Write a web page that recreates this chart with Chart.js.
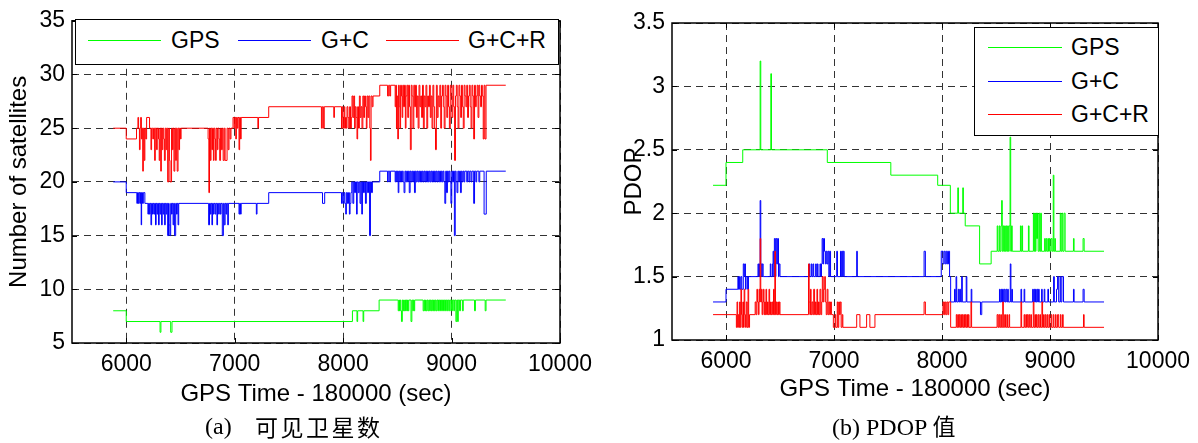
<!DOCTYPE html>
<html>
<head>
<meta charset="utf-8">
<script src="https://cdn.jsdelivr.net/npm/chart.js@4.4.0/dist/chart.umd.min.js"></script>
<style>
  html, body { margin: 0; padding: 0; background: #fff; }
  #wrap { position: relative; width: 1198px; height: 443px; overflow: hidden; font-family: 'Liberation Sans', Arial, sans-serif; }
  canvas { position: absolute; top: 0; }
  .legend { position: absolute; border: 1px solid #000; background: #fff; box-sizing: border-box; }
  .legend .ln { position: absolute; height: 1px; }
  .legend .tx { position: absolute; font-size: 23px; line-height: 23px; color: #000; white-space: nowrap; }
  .cap { position: absolute; font-size: 24px; line-height: 30px; color: #000; white-space: nowrap; font-family: 'Liberation Serif', 'Times New Roman', serif; }
  .cjk { font-family: 'Noto Sans CJK SC', sans-serif; font-size: 23px; letter-spacing: 2.5px; }
</style>
</head>
<body>
<div id="wrap">
  <canvas id="satChart" width="600" height="443" style="left:0px"></canvas>
  <canvas id="pdopChart" width="598" height="443" style="left:600px"></canvas>
  <div class="legend" id="satLegend" style="left:75px;top:19px;width:484px;height:46px"></div>
  <div class="legend" id="pdopLegend" style="left:974px;top:27px;width:185px;height:109px"></div>
  <div class="cap" style="left:205px;top:411px">(a)</div>
  <div class="cap cjk" style="left:255px;top:411px">可见卫星数</div>
  <div class="cap" style="left:832px;top:410px">(b) PDOP <span class="cjk" style="letter-spacing:0">值</span></div>
</div>
<script>
'use strict';

// tick labels
const xTickValues = [6000, 7000, 8000, 9000, 10000];
const satTickValues = [5, 10, 15, 20, 25, 30, 35];
const pdopTickValues = [1, 1.5, 2, 2.5, 3, 3.5];
const seriesNames = ['GPS', 'G+C', 'G+C+R'];

// number of satellites, [time, value] change points
const satGps = [[5880,8],[6000,7],[6312,6],[6320,7],[6410,6],[6422,7],[8086,8],[8128,7],[8134,8],[8184,7],[8190,8],[8332,9],
  [8508,8],[8514,9],[8520,8],[8526,9],[8532,8],[8538,7],[8546,9],[8552,8],[8558,9],[8564,8],[8570,9],[8576,8],[8582,9],[8588,8],[8594,9],[8600,8],[8606,9],[8626,7],[8634,9],[8642,8],[8648,9],[8654,8],[8660,9],
  [8738,8],[8746,9],[8752,8],[8760,9],[8766,8],[8774,9],[8782,8],[8790,9],[8798,8],[8804,9],[8812,8],[8818,9],[8826,8],[8834,9],[8842,8],[8850,9],[8858,8],[8866,9],[8874,8],[8880,9],[8890,8],[8898,9],[8908,8],[8916,9],[8926,8],[8934,9],[8944,8],[8952,9],[8962,8],[8970,9],[8980,8],[8988,9],[9000,8],[9008,9],[9020,8],[9028,9],[9040,7],[9048,9],[9056,7],[9062,9],[9074,8],[9082,9],[9100,8],[9108,9],[9212,8],[9220,9],[9310,8],[9318,9],[9500,9]];

const satGc = [[5880,20],[6000,19],[6098,18],[6104,19],[6112,18],[6118,19],[6126,18],[6132,19],[6138,16],[6142,19],[6150,18],[6158,19],[6172,18],[6200,17],[6206,18],[6214,17],[6220,18],[6228,16],[6234,18],[6242,17],[6248,18],[6256,17],[6262,18],[6270,16],[6276,18],[6284,17],[6290,18],[6298,16],[6304,18],[6312,17],[6318,18],[6326,16],[6332,18],[6340,17],[6346,18],[6354,16],[6360,18],[6368,17],[6374,18],[6382,15],[6390,18],[6396,16],[6402,15],[6410,18],[6418,17],[6424,18],[6432,16],[6438,18],[6446,15],[6456,18],[6464,17],[6470,18],[6478,16],[6484,18],
  [6760,16],[6768,18],[6776,17],[6782,18],[6790,16],[6796,18],[6804,17],[6810,18],[6820,17],[6826,18],[6836,16],[6842,18],[6852,17],[6858,18],[6868,17],[6874,18],[6886,15],[6896,18],[6904,16],[6912,18],[6920,17],[6926,18],[6936,16],[6942,18],
  [7040,17],[7046,18],[7054,17],[7060,18],[7200,17],[7206,18],[7314,19],
  [7810,18],[7830,19],[7985,18],[7992,19],[8000,18],[8008,19],[8016,18],[8024,17],[8030,19],[8040,18],[8050,19],[8058,17],[8064,18],[8072,19],[8080,20],[8090,18],[8098,20],[8106,19],[8114,20],[8124,17],[8130,20],[8140,19],[8148,20],[8156,18],[8164,20],[8172,17],[8178,20],[8188,19],[8196,20],[8206,18],[8214,20],[8226,19],[8234,20],[8244,15],[8252,20],[8262,19],[8270,20],[8338,21],
  [8410,20],[8416,21],[8430,20],[8436,21],
  [8480,20],[8486,21],[8494,20],[8500,21],[8508,19],[8514,21],[8522,20],[8530,21],[8538,20],[8546,21],[8554,20],[8562,19],[8570,21],[8578,20],[8586,21],[8594,20],[8602,21],[8610,19],[8618,21],[8626,20],[8634,21],[8642,20],[8650,21],[8658,19],[8666,21],[8674,20],[8682,21],[8690,20],[8698,21],[8706,20],[8714,21],[8722,20],[8730,21],[8738,20],[8746,21],[8754,20],[8762,21],[8770,20],[8778,21],[8786,20],[8794,21],[8802,20],[8810,21],[8818,20],[8826,21],[8834,20],[8842,21],[8850,20],[8858,21],[8866,20],[8874,21],[8882,20],[8890,21],[8898,20],[8906,21],[8914,20],[8922,21],[8930,20],[8938,18],[8946,21],[8954,19],[8962,21],[8970,20],[8978,21],[8986,20],[8994,18],[9002,21],[9010,20],[9018,21],[9026,15],[9034,21],[9042,20],[9050,19],[9058,21],[9066,20],[9074,21],[9082,19],[9090,21],[9098,20],[9106,21],[9114,20],[9122,21],[9140,20],[9148,21],[9160,20],[9168,21],[9180,20],[9188,21],[9204,18],[9212,21],[9224,20],[9232,21],[9252,20],[9260,21],[9300,17],[9320,21],[9500,21]];

const satGcr = [[5880,25],[6000,24],[6095,25],[6108,26],[6114,25],[6122,23],[6128,25],[6133,26],[6140,24],[6146,25],[6152,21],[6158,25],[6166,22],[6172,25],[6180,24],[6188,26],[6215,25],[6228,23],[6234,25],[6245,24],[6252,25],[6262,22],[6268,25],[6280,23],[6286,25],[6298,24],[6304,22],[6310,25],[6318,21],[6324,25],[6332,23],[6338,25],[6346,24],[6352,22],[6360,25],[6368,23],[6374,25],[6382,20],[6392,25],[6398,22],[6404,20],[6418,25],[6426,23],[6432,25],[6440,21],[6448,25],[6456,22],[6462,25],[6470,21],[6478,25],[6486,23],[6492,25],[6500,24],[6506,25],
  [6755,24],[6762,19],[6768,25],[6776,22],[6782,25],[6790,23],[6796,25],[6804,22],[6810,25],[6818,24],[6824,22],[6830,25],[6840,23],[6846,25],[6856,24],[6862,22],[6870,25],[6878,23],[6886,25],[6894,22],[6904,25],[6912,22],[6930,25],[6940,23],[6948,25],[6958,24],[6966,25],
  [6985,26],[6996,25],[7002,26],[7010,24],[7016,26],[7024,25],[7030,26],[7040,23],[7046,26],[7054,24],[7060,26],[7214,25],[7220,26],[7314,27],
  [7800,25],[7808,27],[7818,25],[7826,27],[7914,26],[7920,27],[7985,25],[7992,27],[7998,26],[8004,25],[8010,27],[8016,25],[8022,26],[8030,25],[8036,27],[8044,26],[8052,25],[8060,27],[8068,25],[8076,26],[8082,28],[8090,26],[8098,28],[8106,25],[8112,27],[8120,26],[8128,24],[8134,27],[8142,25],[8150,28],[8158,26],[8166,27],[8174,25],[8182,28],[8190,26],[8198,28],[8206,27],[8214,25],[8220,28],[8228,26],[8236,28],[8246,25],[8252,22],[8258,28],[8268,27],[8276,28],[8338,29],
  [8410,28],[8420,29],[8430,28],[8438,29],
  [8480,27],[8486,29],[8492,25],[8498,28],[8504,24],[8510,29],[8518,27],[8524,25],[8530,29],[8538,28],[8544,26],[8550,29],[8558,27],[8566,29],[8574,25],[8580,28],[8588,29],[8596,26],[8604,29],[8612,27],[8620,23],[8628,29],[8636,28],[8644,25],[8652,29],[8660,27],[8668,29],[8676,26],[8684,28],[8692,25],[8700,29],[8708,27],[8716,28],[8724,26],[8732,29],[8740,25],[8748,28],[8756,27],[8764,29],[8772,25],[8780,28],[8788,27],[8796,29],[8804,26],[8812,28],[8820,25],[8828,29],[8836,27],[8844,25],[8852,23],[8860,29],[8868,26],[8876,28],[8884,27],[8892,29],[8900,25],[8908,28],[8916,29],[8924,27],[8932,25],[8940,29],[8948,28],[8956,26],[8964,29],[8972,27],[8980,25],[8988,29],[8996,28],[9004,26],[9012,29],[9020,27],[9028,22],[9036,28],[9044,29],[9052,27],[9060,25],[9068,29],[9076,28],[9084,26],[9092,29],[9100,27],[9108,25],[9116,29],[9124,28],[9132,27],[9140,29],[9148,26],[9156,28],[9164,29],[9172,27],[9180,25],[9188,29],[9196,28],[9204,24],[9212,29],[9220,27],[9228,28],[9236,29],[9244,26],[9252,29],[9260,28],[9268,27],[9276,29],[9284,28],[9292,24],[9300,29],[9308,24],[9318,29],[9500,29]];

// PDOP, [time, value] change points
const pdopGps = [[5880,2.22],[6000,2.4],[6155,2.5],[6316,3.2],[6322,2.5],[6415,3.1],[6421,2.5],[6938,2.4],[7526,2.3],[7960,2.22],[8077,2.0],[8146,2.2],[8152,2.0],[8192,2.2],[8198,2.0],[8215,1.9],[8348,1.6],[8455,1.7],
  [8511,1.9],[8517,1.7],[8530,1.9],[8536,1.7],[8546,1.9],[8552,2.1],[8558,1.7],[8566,1.9],[8572,1.7],[8580,1.9],[8586,1.7],[8594,1.9],[8600,1.7],[8608,1.9],[8614,1.7],[8622,1.9],[8630,2.6],[8636,1.7],[8644,1.9],[8650,1.7],
  [8726,1.9],[8732,1.7],[8740,1.9],[8746,1.7],[8800,1.9],[8806,1.7],
  [8846,2.0],[8852,1.7],[8858,2.0],[8864,1.7],[8870,2.0],[8876,1.8],[8884,2.0],[8890,1.7],[8900,2.0],[8906,1.7],[8914,2.0],[8920,1.7],
  [8950,1.8],[8956,1.7],[8964,1.8],[8970,1.7],[8980,1.8],[8986,1.7],[8994,1.8],[9000,1.7],[9010,1.8],[9020,1.7],[9030,2.3],[9036,1.7],[9044,1.8],[9050,1.7],
  [9095,2.0],[9101,1.7],[9110,2.0],[9118,1.7],[9130,2.0],[9140,1.7],[9217,1.8],[9223,1.7],[9306,1.8],[9316,1.7],[9500,1.7]];

const pdopGc = [[5880,1.3],[6000,1.4],[6110,1.5],[6116,1.4],[6124,1.5],[6130,1.4],[6138,1.5],[6146,1.4],[6160,1.6],[6168,1.5],[6174,1.6],[6180,1.4],[6186,1.5],[6200,1.4],[6208,1.5],
  [6296,1.6],[6302,1.5],[6310,1.6],[6316,2.1],[6322,1.6],[6330,1.5],[6336,1.6],[6344,1.5],[6410,1.6],[6416,1.5],[6430,1.6],[6436,1.7],[6442,1.5],[6448,1.8],[6456,1.5],[6462,1.8],[6470,1.6],[6478,1.8],[6486,1.5],[6492,1.6],[6500,1.5],
  [6770,1.6],[6776,1.5],[6790,1.6],[6796,1.5],[6806,1.6],[6812,1.5],[6830,1.6],[6836,1.5],[6846,1.6],[6852,1.5],[6870,1.6],[6876,1.5],[6884,1.6],[6890,1.8],[6898,1.6],[6904,1.8],[6912,1.7],[6920,1.6],[6928,1.7],[6936,1.6],[6944,1.7],[6952,1.5],[6960,1.7],[6968,1.5],
  [7025,1.7],[7032,1.5],[7060,1.7],[7066,1.5],[7072,1.7],[7080,1.5],[7086,1.7],[7094,1.5],[7210,1.7],[7216,1.5],
  [7834,1.7],[7846,1.5],[7993,1.7],[8010,1.6],[8020,1.7],[8030,1.6],[8040,1.7],[8050,1.6],[8060,1.7],[8070,1.5],[8080,1.3],
  [8116,1.4],[8122,1.3],[8130,1.5],[8136,1.3],[8150,1.4],[8156,1.3],[8164,1.4],[8172,1.3],[8182,1.5],[8188,1.3],[8224,1.5],[8230,1.3],[8270,1.4],[8276,1.3],[8356,1.2],[8368,1.3],
  [8532,1.4],[8538,1.3],[8546,1.4],[8552,1.3],[8560,1.4],[8568,1.3],[8576,1.4],[8584,1.3],[8592,1.4],[8600,1.3],[8608,1.4],[8614,1.3],[8632,1.6],[8638,1.3],[8646,1.4],[8652,1.3],
  [8731,1.4],[8737,1.3],[8760,1.4],[8766,1.3],[8839,1.4],[8845,1.3],[8852,1.4],[8858,1.3],[8866,1.4],[8872,1.3],[8880,1.4],[8886,1.3],[8894,1.4],[8900,1.3],[8922,1.4],[8928,1.3],[8946,1.4],[8952,1.3],[8980,1.4],[8986,1.3],[9033,1.5],[9040,1.3],[9060,1.4],[9070,1.5],[9080,1.3],[9094,1.5],[9100,1.3],[9110,1.5],[9125,1.3],
  [9217,1.4],[9223,1.3],[9306,1.4],[9316,1.3],[9500,1.3]];

const pdopGcr = [[5880,1.2],[6096,1.1],[6102,1.3],[6108,1.1],[6114,1.2],[6120,1.1],[6126,1.3],[6132,1.1],[6138,1.4],[6144,1.2],[6150,1.1],[6156,1.3],[6162,1.1],[6168,1.4],[6174,1.2],[6180,1.1],[6188,1.3],[6196,1.1],[6204,1.4],[6210,1.1],[6218,1.2],
  [6270,1.3],[6278,1.2],[6286,1.4],[6292,1.3],[6300,1.2],[6306,1.4],[6312,1.3],[6316,1.8],[6322,1.3],[6328,1.4],[6334,1.2],[6340,1.3],[6346,1.4],[6352,1.2],[6358,1.3],[6364,1.2],[6370,1.4],[6376,1.2],[6384,1.3],[6390,1.2],[6398,1.4],[6404,1.2],[6412,1.3],[6418,1.2],[6426,1.3],[6432,1.2],[6440,1.4],[6446,1.2],[6452,1.7],[6458,1.2],[6466,1.3],[6472,1.2],[6480,1.3],[6486,1.2],[6494,1.3],[6500,1.2],
  [6764,1.6],[6770,1.3],[6776,1.2],[6782,1.4],[6788,1.2],[6796,1.3],[6804,1.2],[6812,1.4],[6820,1.2],[6828,1.3],[6834,1.2],[6842,1.4],[6848,1.2],[6856,1.3],[6862,1.2],[6870,1.4],[6878,1.2],[6886,1.3],[6892,1.5],[6900,1.3],[6906,1.4],[6914,1.5],[6920,1.3],[6928,1.2],[6936,1.4],[6944,1.2],[6952,1.3],[6960,1.2],[6968,1.3],[6976,1.2],[6994,1.1],
  [7010,1.2],[7016,1.1],[7030,1.3],[7036,1.1],[7044,1.3],[7050,1.2],[7058,1.3],[7066,1.1],[7076,1.2],[7082,1.1],[7210,1.2],[7240,1.1],[7302,1.2],[7332,1.1],[7379,1.2],
  [7834,1.3],[7846,1.2],[8009,1.3],[8016,1.2],[8024,1.3],[8034,1.2],[8044,1.3],[8054,1.2],[8062,1.3],[8080,1.1],
  [8132,1.2],[8138,1.1],[8146,1.2],[8152,1.1],[8160,1.2],[8166,1.1],[8174,1.2],[8180,1.1],[8188,1.2],[8194,1.1],[8202,1.2],[8208,1.1],[8216,1.2],[8222,1.1],[8230,1.2],[8236,1.1],[8244,1.2],[8250,1.1],[8268,1.3],[8274,1.1],
  [8510,1.2],[8518,1.1],[8526,1.2],[8534,1.1],[8544,1.2],[8550,1.1],[8562,1.3],[8568,1.1],[8580,1.2],[8588,1.1],[8600,1.2],[8606,1.1],[8620,1.2],[8626,1.1],[8731,1.3],[8737,1.1],
  [8760,1.2],[8766,1.1],[8776,1.2],[8782,1.1],[8790,1.2],[8798,1.1],[8806,1.2],[8812,1.1],[8822,1.2],[8828,1.1],[8845,1.3],[8851,1.1],[8860,1.2],[8866,1.1],[8874,1.2],[8880,1.1],[8890,1.2],[8896,1.1],[8906,1.2],[8912,1.1],[8925,1.3],[8931,1.1],[8940,1.2],[8946,1.1],[8956,1.2],[8962,1.1],[8972,1.2],[8978,1.1],[8990,1.2],[8996,1.1],[9010,1.2],[9016,1.1],[9030,1.2],[9036,1.1],[9050,1.2],[9056,1.1],[9070,1.2],[9080,1.1],[9096,1.2],[9102,1.1],[9116,1.2],[9122,1.1],[9310,1.2],[9316,1.1],[9500,1.1]];

const lineColors = ['#00ff00', '#0000ff', '#ff0000'];
const FONT = "'Liberation Sans', Arial, sans-serif";

// matlab-like box with inward ticks
const framePlugin = {
  id: 'frame',
  afterDatasetsDraw(chart) {
    const { ctx, chartArea: a, scales } = chart;
    ctx.save();
    ctx.setLineDash([]);
    ctx.strokeStyle = '#000';
    ctx.lineWidth = 1;
    ctx.beginPath();
    scales.x.ticks.forEach(t => {
      const px = Math.round(scales.x.getPixelForValue(t.value)) + 0.5;
      ctx.moveTo(px, a.bottom); ctx.lineTo(px, a.bottom - 5);
      ctx.moveTo(px, a.top); ctx.lineTo(px, a.top + 5);
    });
    scales.y.ticks.forEach(t => {
      const py = Math.round(scales.y.getPixelForValue(t.value)) + 0.5;
      ctx.moveTo(a.left, py); ctx.lineTo(a.left + 5, py);
      ctx.moveTo(a.right, py); ctx.lineTo(a.right - 5, py);
    });
    ctx.stroke();
    ctx.lineWidth = 1.5;
    ctx.strokeRect(a.left, a.top, a.right - a.left, a.bottom - a.top);
    ctx.restore();
  }
};

function makeDatasets(series) {
  return series.map((s, i) => ({
    label: seriesNames[i],
    data: s.map(p => ({ x: p[0], y: p[1] })),
    borderColor: lineColors[i],
    borderWidth: 1,
    pointRadius: 0,
    stepped: true,
    fill: false,
    order: 3 - i
  }));
}

function makeChart(id, series, yTicks, cfg) {
  const ctx = document.getElementById(id).getContext('2d');
  return new Chart(ctx, {
    type: 'line',
    data: { datasets: makeDatasets(series) },
    options: {
      responsive: false,
      animation: false,
      events: [],
      layout: { padding: { left: 0, top: cfg.top, right: cfg.right, bottom: 0 } },
      plugins: { legend: { display: false }, tooltip: { enabled: false } },
      scales: {
        x: {
          type: 'linear',
          min: 5500,
          max: 10000,
          afterBuildTicks: s => { s.ticks = xTickValues.map(v => ({ value: v })); },
          afterFit: s => { s.height = cfg.xHeight; },
          ticks: { font: { size: 23, family: FONT }, color: '#000', padding: 8, maxRotation: 0, autoSkip: false, callback: v => String(v) },
          grid: { color: '#333', lineWidth: 1, drawTicks: false },
          border: { display: false, dash: [7, 5] },
          title: { display: true, text: 'GPS Time - 180000 (sec)', color: '#000', font: { size: 24, family: FONT }, padding: { top: 0, bottom: cfg.xTitlePad } }
        },
        y: {
          type: 'linear',
          min: yTicks[0],
          max: yTicks[yTicks.length - 1],
          afterBuildTicks: s => { s.ticks = yTicks.map(v => ({ value: v })); },
          afterFit: s => { s.width = cfg.yWidth; },
          ticks: { font: { size: 23, family: FONT }, color: '#000', padding: 7, autoSkip: false, callback: v => String(v) },
          grid: { color: '#333', lineWidth: 1, drawTicks: false },
          border: { display: false, dash: [7, 5] },
          title: { display: true, text: cfg.yTitle, color: '#000', font: { size: 24, family: FONT }, padding: { top: cfg.yTitlePad, bottom: 0 } }
        }
      }
    },
    plugins: [framePlugin]
  });
}

function makeLegend(id, items) {
  const box = document.getElementById(id);
  items.forEach((it, i) => {
    const ln = document.createElement('div');
    ln.className = 'ln';
    ln.style.left = it.x1 + 'px';
    ln.style.width = (it.x2 - it.x1) + 'px';
    ln.style.top = it.y + 'px';
    ln.style.background = lineColors[i];
    box.appendChild(ln);
    const tx = document.createElement('div');
    tx.className = 'tx';
    tx.style.left = it.tx + 'px';
    tx.style.top = (it.y - 11) + 'px';
    tx.textContent = seriesNames[i];
    box.appendChild(tx);
  });
}

makeChart('satChart', [satGps, satGc, satGcr], satTickValues,
  { top: 19, right: 40, xHeight: 100, yWidth: 72, xTitlePad: 34, yTitlePad: 5, yTitle: 'Number of satellites' });
makeChart('pdopChart', [pdopGps, pdopGc, pdopGcr], pdopTickValues,
  { top: 23, right: 38, xHeight: 103, yWidth: 72, xTitlePad: 39, yTitlePad: 20, yTitle: 'PDOP' });

// legend positions are relative to each legend box
makeLegend('satLegend', [
  { x1: 12, x2: 85, tx: 95, y: 20 },
  { x1: 162, x2: 235, tx: 245, y: 20 },
  { x1: 310, x2: 383, tx: 392, y: 20 }
]);
makeLegend('pdopLegend', [
  { x1: 13, x2: 87, tx: 96, y: 19 },
  { x1: 13, x2: 87, tx: 96, y: 53 },
  { x1: 13, x2: 87, tx: 96, y: 86 }
]);
</script>
</body>
</html>
